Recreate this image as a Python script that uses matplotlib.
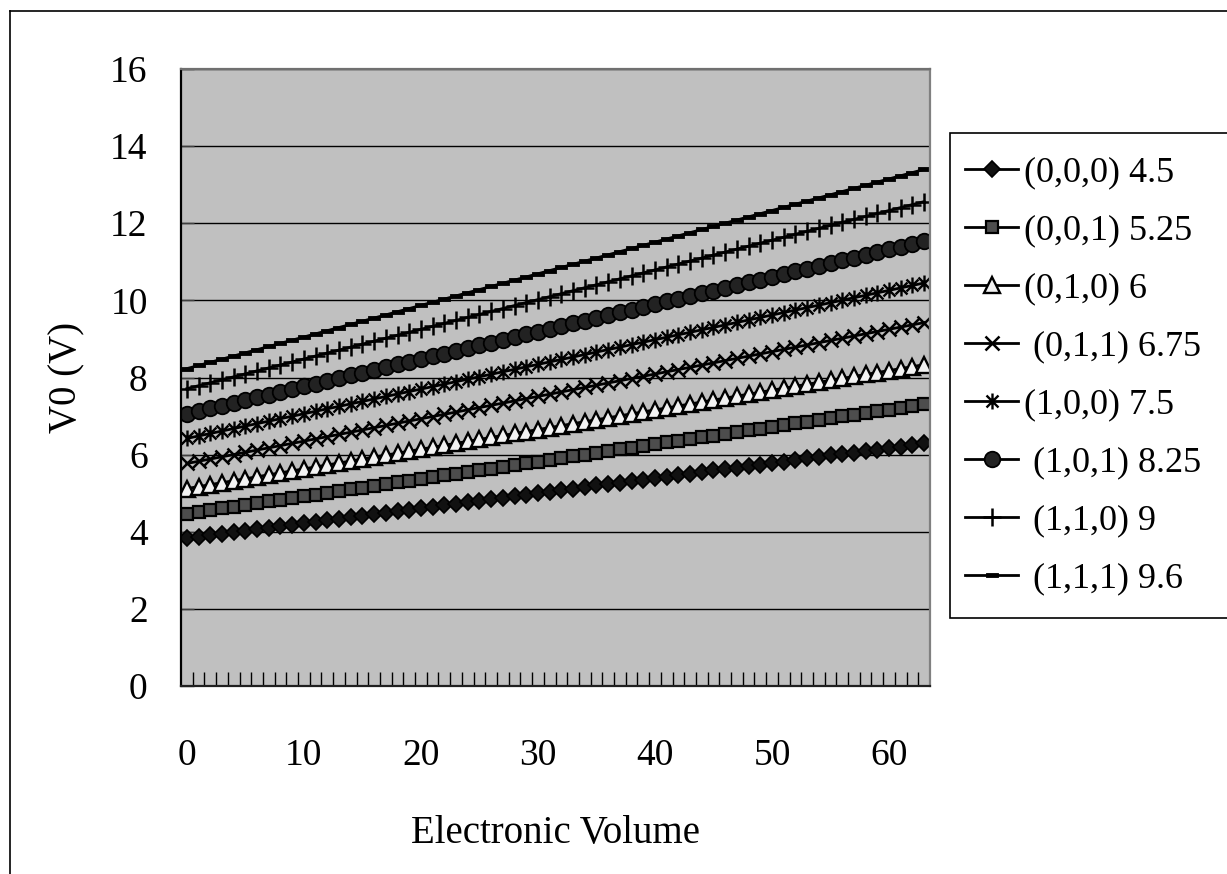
import numpy as np
import matplotlib
matplotlib.use("Agg")
import matplotlib.pyplot as plt
from matplotlib.path import Path
from matplotlib.patches import Rectangle
from matplotlib.lines import Line2D

# font: serif like the original Excel chart
plt.rcParams['font.family'] = ['Liberation Serif', 'DejaVu Serif']

# electronic volume steps 0..63
volume = list(range(64))

# V0 values, one list per (b2,b1,b0) setting
v_000 = [3.83, 3.87, 3.91, 3.95, 3.99, 4.03, 4.06, 4.10,
         4.14, 4.18, 4.22, 4.26, 4.30, 4.34, 4.38, 4.42,
         4.45, 4.49, 4.53, 4.57, 4.61, 4.65, 4.69, 4.73,
         4.77, 4.81, 4.84, 4.88, 4.92, 4.96, 5.00, 5.04,
         5.08, 5.12, 5.16, 5.20, 5.23, 5.27, 5.31, 5.35,
         5.39, 5.43, 5.47, 5.51, 5.55, 5.59, 5.62, 5.66,
         5.70, 5.74, 5.78, 5.82, 5.86, 5.90, 5.94, 5.98,
         6.01, 6.05, 6.09, 6.13, 6.17, 6.21, 6.25, 6.29]
v_001 = [4.470, 4.515, 4.560, 4.605, 4.650, 4.695, 4.740, 4.785,
         4.830, 4.875, 4.920, 4.965, 5.010, 5.055, 5.100, 5.145,
         5.190, 5.235, 5.280, 5.325, 5.370, 5.415, 5.460, 5.505,
         5.550, 5.595, 5.640, 5.685, 5.730, 5.775, 5.820, 5.865,
         5.910, 5.955, 6.000, 6.045, 6.090, 6.135, 6.180, 6.225,
         6.270, 6.315, 6.360, 6.405, 6.450, 6.495, 6.540, 6.585,
         6.630, 6.675, 6.720, 6.765, 6.810, 6.855, 6.900, 6.945,
         6.990, 7.035, 7.080, 7.125, 7.170, 7.215, 7.260, 7.305]
v_010 = [5.120, 5.171, 5.222, 5.273, 5.324, 5.375, 5.426, 5.477,
         5.528, 5.579, 5.630, 5.681, 5.732, 5.783, 5.834, 5.885,
         5.936, 5.987, 6.038, 6.089, 6.140, 6.191, 6.242, 6.293,
         6.344, 6.395, 6.446, 6.497, 6.548, 6.599, 6.650, 6.701,
         6.752, 6.803, 6.854, 6.905, 6.956, 7.007, 7.058, 7.109,
         7.160, 7.211, 7.262, 7.313, 7.364, 7.415, 7.466, 7.517,
         7.568, 7.619, 7.670, 7.721, 7.772, 7.823, 7.874, 7.925,
         7.976, 8.027, 8.078, 8.129, 8.180, 8.231, 8.282, 8.333]
v_011 = [5.770, 5.828, 5.886, 5.944, 6.002, 6.060, 6.118, 6.176,
         6.234, 6.292, 6.350, 6.408, 6.466, 6.524, 6.582, 6.640,
         6.698, 6.756, 6.814, 6.872, 6.930, 6.988, 7.046, 7.104,
         7.162, 7.220, 7.278, 7.336, 7.394, 7.452, 7.510, 7.568,
         7.626, 7.684, 7.742, 7.800, 7.858, 7.916, 7.974, 8.032,
         8.090, 8.148, 8.206, 8.264, 8.322, 8.380, 8.438, 8.496,
         8.554, 8.612, 8.670, 8.728, 8.786, 8.844, 8.902, 8.960,
         9.018, 9.076, 9.134, 9.192, 9.250, 9.308, 9.366, 9.424]
v_100 = [6.420, 6.484, 6.548, 6.612, 6.676, 6.740, 6.804, 6.868,
         6.932, 6.996, 7.060, 7.124, 7.188, 7.252, 7.316, 7.380,
         7.444, 7.508, 7.572, 7.636, 7.700, 7.764, 7.828, 7.892,
         7.956, 8.020, 8.084, 8.148, 8.212, 8.276, 8.340, 8.404,
         8.468, 8.532, 8.596, 8.660, 8.724, 8.788, 8.852, 8.916,
         8.980, 9.044, 9.108, 9.172, 9.236, 9.300, 9.364, 9.428,
         9.492, 9.556, 9.620, 9.684, 9.748, 9.812, 9.876, 9.940,
         10.004, 10.068, 10.132, 10.196, 10.260, 10.324, 10.388, 10.452]
v_101 = [7.060, 7.131, 7.202, 7.273, 7.344, 7.415, 7.486, 7.557,
         7.628, 7.699, 7.770, 7.841, 7.912, 7.983, 8.054, 8.125,
         8.196, 8.267, 8.338, 8.409, 8.480, 8.551, 8.622, 8.693,
         8.764, 8.835, 8.906, 8.977, 9.048, 9.119, 9.190, 9.261,
         9.332, 9.403, 9.474, 9.545, 9.616, 9.687, 9.758, 9.829,
         9.900, 9.971, 10.042, 10.113, 10.184, 10.255, 10.326, 10.397,
         10.468, 10.539, 10.610, 10.681, 10.752, 10.823, 10.894, 10.965,
         11.036, 11.107, 11.178, 11.249, 11.320, 11.391, 11.462, 11.533]
v_110 = [7.710, 7.787, 7.864, 7.941, 8.018, 8.095, 8.172, 8.249,
         8.326, 8.403, 8.480, 8.557, 8.634, 8.711, 8.788, 8.865,
         8.942, 9.019, 9.096, 9.173, 9.250, 9.327, 9.404, 9.481,
         9.558, 9.635, 9.712, 9.789, 9.866, 9.943, 10.020, 10.097,
         10.174, 10.251, 10.328, 10.405, 10.482, 10.559, 10.636, 10.713,
         10.790, 10.867, 10.944, 11.021, 11.098, 11.175, 11.252, 11.329,
         11.406, 11.483, 11.560, 11.637, 11.714, 11.791, 11.868, 11.945,
         12.022, 12.099, 12.176, 12.253, 12.330, 12.407, 12.484, 12.561]
v_111 = [8.230, 8.312, 8.394, 8.476, 8.558, 8.640, 8.722, 8.804,
         8.886, 8.968, 9.050, 9.132, 9.214, 9.296, 9.378, 9.460,
         9.542, 9.624, 9.706, 9.788, 9.870, 9.952, 10.034, 10.116,
         10.198, 10.280, 10.362, 10.444, 10.526, 10.608, 10.690, 10.772,
         10.854, 10.936, 11.018, 11.100, 11.182, 11.264, 11.346, 11.428,
         11.510, 11.592, 11.674, 11.756, 11.838, 11.920, 12.002, 12.084,
         12.166, 12.248, 12.330, 12.412, 12.494, 12.576, 12.658, 12.740,
         12.822, 12.904, 12.986, 13.068, 13.150, 13.232, 13.314, 13.396]

labels = ['(0,0,0) 4.5', '(0,0,1) 5.25', '(0,1,0) 6', ' (0,1,1) 6.75',
          '(1,0,0) 7.5', ' (1,0,1) 8.25', ' (1,1,0) 9', ' (1,1,1) 9.6']
x_labels = ['0', '10', '20', '30', '40', '50', '60']
y_labels = ['0', '2', '4', '6', '8', '10', '12', '14', '16']

# markers like Excel: asterisk and short dash as custom paths
asterisk = Path([(0, -1), (0, 1), (-0.75, -0.75), (0.75, 0.75), (-0.75, 0.75), (0.75, -0.75)],
                [Path.MOVETO, Path.LINETO, Path.MOVETO, Path.LINETO, Path.MOVETO, Path.LINETO])
dash = Path([(-1, -0.4), (1, -0.4), (1, 0.4), (-1, 0.4), (-1, -0.4)],
            [Path.MOVETO, Path.LINETO, Path.LINETO, Path.LINETO, Path.CLOSEPOLY])

styles = [
    dict(marker='D', ms=8.0, mfc='#111111', mec='black', mew=1.2),
    dict(marker='s', ms=9.2, mfc='#4d4d4d', mec='black', mew=1.6),
    dict(marker='^', ms=11.2, mfc='#f2f2f2', mec='black', mew=1.7),
    dict(marker='x', ms=10.5, mfc='none', mec='black', mew=1.8),
    dict(marker=asterisk, ms=11.5, mfc='none', mec='black', mew=1.7),
    dict(marker='o', ms=11.2, mfc='#222222', mec='black', mew=1.3),
    dict(marker='+', ms=12.5, mfc='none', mec='black', mew=1.8),
    dict(marker=dash, ms=8.5, mfc='black', mec='black', mew=0.6),
]
series = [v_000, v_001, v_010, v_011, v_100, v_101, v_110, v_111]

fig = plt.figure(figsize=(12.27, 8.74), dpi=100)
ax = fig.add_axes([181 / 1227, 1 - 686 / 874, 749 / 1227, 617 / 874])
ax.set_facecolor('#c0c0c0')

handles = []
for vals, st, lab in zip(series, styles, labels):
    h, = ax.plot(volume, vals, color='black', lw=2.0, label=lab, **st)
    handles.append(h)

ax.set_xlim(-0.5, 63.5)
ax.set_ylim(0, 16)

# y axis: gridlines at every 2 V
ax.set_yticks(range(0, 17, 2))
ax.set_yticklabels(y_labels)
ax.yaxis.grid(True, color='black', lw=1)
ax.set_axisbelow(True)
ax.tick_params(axis='y', direction='in', length=9, width=1, color='#404040',
               labelsize=27, pad=24)

# x axis: category axis, labels every 10, ticks between categories
ax.set_xticks(range(0, 61, 10))
ax.set_xticklabels(x_labels)
ax.set_xticks(np.arange(0.5, 63, 1), minor=True)
ax.tick_params(axis='x', which='major', length=0, labelsize=27, pad=38)
ax.tick_params(axis='x', which='minor', direction='in', length=10, width=1, color='black')

ax.spines['left'].set_color('black')
ax.spines['bottom'].set_color('#202020')
ax.spines['top'].set_color('#707070')
ax.spines['right'].set_color('#808080')
for s in ax.spines.values():
    s.set_linewidth(1.6)

ax.set_xlabel('Electronic Volume', fontsize=28, labelpad=30)
ax.set_ylabel('V0 (V)', fontsize=28, labelpad=18)

# legend box (runs off the right edge like the original)
fig.patches.append(Rectangle((950 / 1227, 1 - 618 / 874), 0.3, 485 / 874,
                             transform=fig.transFigure, fill=True, fc='white',
                             ec='black', lw=1.2, zorder=0))
fig.legend(handles=handles, loc='upper left', bbox_to_anchor=(965 / 1227, 1 - 156 / 874),
           frameon=False, fontsize=26, borderpad=0, borderaxespad=0,
           handlelength=1.47, handletextpad=0.15, labelspacing=0.685)

# outer chart border (top and left edges)
fig.add_artist(Line2D([10 / 1227, 1], [1 - 11 / 874, 1 - 11 / 874], color='black', lw=1.2))
fig.add_artist(Line2D([10 / 1227, 10 / 1227], [0, 1 - 11 / 874], color='black', lw=1.2))

plt.savefig('out.png', dpi=100)
